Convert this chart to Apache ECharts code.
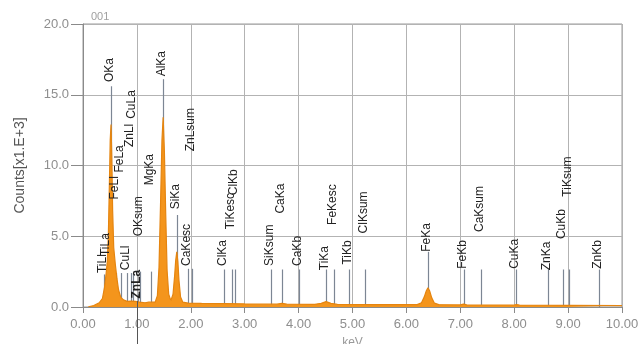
<!DOCTYPE html>
<html>
<head>
<meta charset="utf-8">
<script src="https://cdn.jsdelivr.net/npm/echarts@6/dist/echarts.min.js"></script>
<style>
  html, body { margin: 0; padding: 0; background: #fff; }
  #chart { width: 642px; height: 344px; }
</style>
</head>
<body>
<div id="chart"></div>
<script>
// EDS spectrum: energy (keV) and counts (x1000)
const energy = [0.10, 0.20, 0.30, 0.36, 0.40, 0.43, 0.45, 0.47, 0.49, 0.505, 0.52, 0.535, 0.55, 0.57, 0.60, 0.63, 0.66, 0.70, 0.75, 0.82, 0.90, 0.93, 0.97, 1.05, 1.15, 1.22, 1.25, 1.28, 1.34, 1.38, 1.41, 1.44, 1.465, 1.487, 1.51, 1.535, 1.56, 1.59, 1.63, 1.67, 1.70, 1.72, 1.74, 1.76, 1.78, 1.81, 1.85, 1.95, 2.20, 2.62, 3.00, 3.60, 3.69, 3.78, 4.30, 4.42, 4.51, 4.60, 4.72, 5.50, 6.20, 6.28, 6.33, 6.37, 6.40, 6.43, 6.47, 6.52, 6.60, 7.00, 7.06, 7.12, 8.00, 8.04, 8.10, 9.00, 10.00];
const counts = [0.02, 0.10, 0.30, 0.60, 1.40, 2.40, 3.20, 5.00, 8.80, 11.80, 12.90, 10.50, 6.80, 4.20, 3.00, 2.00, 1.20, 0.70, 0.50, 0.40, 0.42, 0.45, 0.40, 0.35, 0.30, 0.34, 0.40, 0.34, 0.35, 0.80, 2.80, 7.50, 11.80, 13.40, 11.00, 6.50, 2.60, 0.90, 0.45, 0.90, 2.20, 3.30, 3.90, 3.20, 1.90, 0.70, 0.35, 0.28, 0.26, 0.24, 0.22, 0.20, 0.26, 0.20, 0.19, 0.26, 0.38, 0.26, 0.18, 0.17, 0.17, 0.30, 0.70, 1.15, 1.35, 1.15, 0.65, 0.27, 0.17, 0.15, 0.20, 0.15, 0.14, 0.17, 0.14, 0.12, 0.10];

// KLM marker lines: name, energy, line top and label base (counts x1000)
const lineNames = ['TiLl', 'TiLa', 'OKa', 'FeLl', 'FeLa', 'CuLl', 'ZnLl', 'CuLa', 'ZnLa', 'OKsum', 'MgKa', 'AlKa', 'SiKa', 'CaKesc', 'ZnLsum', 'ClKa', 'TiKesc', 'ClKb', 'SiKsum', 'CaKa', 'CaKb', 'TiKa', 'FeKesc', 'TiKb', 'ClKsum', 'FeKa', 'FeKb', 'CaKsum', 'CuKa', 'ZnKa', 'CuKb', 'TiKsum', 'ZnKb'];
const lineEnergy = [0.395, 0.452, 0.525, 0.615, 0.705, 0.811, 0.884, 0.930, 1.012, 1.050, 1.254, 1.486, 1.740, 1.950, 2.024, 2.622, 2.770, 2.815, 3.480, 3.690, 4.013, 4.510, 4.660, 4.930, 5.240, 6.400, 7.060, 7.380, 8.040, 8.630, 8.900, 9.020, 9.570];
const lineTop = [2.3, 2.3, 15.6, 2.4, 2.4, 2.4, 2.4, 2.4, 0.9, 2.5, 2.5, 16.1, 6.5, 2.7, 2.7, 2.65, 2.65, 2.65, 2.65, 2.65, 2.65, 2.65, 2.65, 2.65, 2.65, 3.9, 2.65, 2.65, 2.65, 2.65, 2.65, 2.65, 2.65];
const labelBase = [2.4, 3.6, 15.9, 7.6, 9.5, 2.6, 11.3, 13.3, 0.6, 5.0, 8.6, 16.3, 6.9, 2.9, 11.0, 2.9, 5.5, 7.9, 2.9, 6.6, 2.9, 2.6, 5.8, 3.0, 5.2, 3.9, 2.7, 5.3, 2.7, 2.6, 4.8, 7.8, 2.7];

// energy cursor position (keV)
const cursorEnergy = [1.0];

// axis ticks
const xTicks = [0, 1, 2, 3, 4, 5, 6, 7, 8, 9, 10];
const yTicks = [0, 5, 10, 15, 20];

const spectrum = energy.map((e, i) => [e, counts[i]]);
const markers = lineEnergy.map((e, i) => [e, lineTop[i], labelBase[i], i]);

const chart = echarts.init(document.getElementById('chart'), null, { renderer: 'canvas' });

const axisGray = '#8e8e8e';
const gridGray = '#b3b3b3';
const fontFam = '"Liberation Sans", Arial, sans-serif';

chart.setOption({
  animation: false,
  backgroundColor: '#ffffff',
  title: {
    text: '001',
    left: 86, top: 6,
    textStyle: { fontSize: 11, fontWeight: 'normal', color: '#a0a0a0', fontFamily: fontFam }
  },
  grid: {
    left: 83, right: 20, top: 24, bottom: 37,
    outerBoundsMode: 'none', containLabel: false,
    show: true, borderColor: '#9a9a9a', borderWidth: 1
  },
  xAxis: {
    type: 'value',
    min: xTicks[0], max: xTicks[xTicks.length - 1], interval: 1,
    name: 'keV', nameLocation: 'middle', nameGap: 30,
    nameTextStyle: { fontSize: 12, color: '#9a9a9a', fontFamily: fontFam },
    axisLine: { show: true, lineStyle: { color: '#8a8a8a' } },
    axisTick: { show: true, length: 6, lineStyle: { color: '#8a8a8a' } },
    axisLabel: { color: axisGray, fontSize: 13, margin: 11, fontFamily: fontFam, formatter: v => v.toFixed(2) },
    splitLine: { show: true, lineStyle: { color: gridGray, width: 1 } }
  },
  yAxis: {
    type: 'value',
    min: yTicks[0], max: yTicks[yTicks.length - 1], interval: 5,
    name: 'Counts[x1.E+3]', nameLocation: 'middle', nameGap: 56, nameRotate: 90,
    nameTextStyle: { fontSize: 14, color: '#555', fontFamily: fontFam },
    axisLine: { show: true, lineStyle: { color: '#8a8a8a' } },
    axisTick: { show: true, length: 12, lineStyle: { color: '#8a8a8a' } },
    axisLabel: { color: axisGray, fontSize: 13, margin: 14, fontFamily: fontFam, formatter: v => v.toFixed(1) },
    splitLine: { show: true, lineStyle: { color: gridGray, width: 1 } }
  },
  series: [
    {
      // marker lines, drawn beneath the spectrum
      type: 'custom',
      z: 1,
      silent: true,
      data: markers,
      renderItem: (params, api) => {
        const e = api.value(0);
        const p0 = api.coord([e, 0]);
        const p1 = api.coord([e, api.value(1)]);
        return {
          type: 'line',
          shape: { x1: Math.round(p0[0]) + 0.5, y1: p0[1], x2: Math.round(p1[0]) + 0.5, y2: p1[1] },
          style: { stroke: '#7c8694', lineWidth: 1.2 }
        };
      }
    },
    {
      type: 'line',
      z: 2,
      data: spectrum,
      showSymbol: false,
      smooth: false,
      lineStyle: { color: '#e58510', width: 1.2 },
      areaStyle: { color: '#f4951c', opacity: 1 }
    },
    {
      // marker labels, drawn over the spectrum
      type: 'custom',
      z: 3,
      silent: true,
      data: markers,
      renderItem: (params, api) => {
        const e = api.value(0);
        const p = api.coord([e, api.value(2)]);
        const name = lineNames[api.value(3)];
        return {
          type: 'text',
          x: Math.round(p[0]) - 1,
          y: p[1],
          rotation: Math.PI / 2,
          style: {
            text: name,
            font: (name === 'ZnLa' ? 'bold ' : '') + '12px ' + fontFam,
            fill: '#222222',
            align: 'left',
            verticalAlign: 'middle'
          }
        };
      }
    },
    {
      // energy cursor, running from just above the baseline to the bottom edge
      type: 'custom',
      z: 4,
      silent: true,
      clip: false,
      data: cursorEnergy.map(e => [e]),
      renderItem: (params, api) => {
        const p = api.coord([api.value(0), 0]);
        const x = Math.round(p[0]) + 0.5;
        return {
          type: 'line',
          shape: { x1: x, y1: p[1] - 6, x2: x, y2: api.getHeight() },
          style: { stroke: '#555555', lineWidth: 1 }
        };
      }
    }
  ]
});
</script>
</body>
</html>
